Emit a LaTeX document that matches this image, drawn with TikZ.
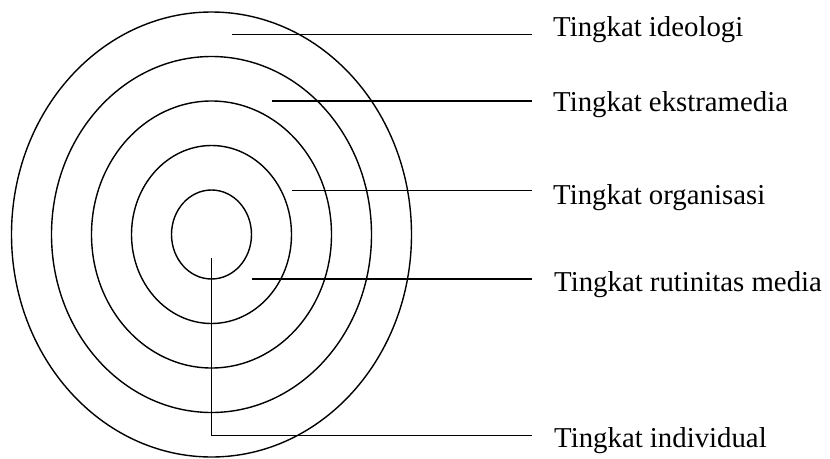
\documentclass[tikz,border=0pt]{standalone}
\usepackage{fontspec}
\setmainfont{Liberation Serif}
\usetikzlibrary{shapes.geometric}
\begin{document}
\begin{tikzpicture}[x=1pt,y=-1pt,
  ring/.style={draw, ellipse, inner sep=0pt, line width=1.4pt},
  leader/.style={line width=1.4pt},
  lab/.style={anchor=base west, inner sep=0pt, font=\fontsize{28.8}{32}\selectfont}]
\useasboundingbox (0,0) rectangle (830,458);
\coordinate (c) at (211.5,234.5);
\node[ring, minimum width=400pt, minimum height=445pt] (r1) at (c) {};
\node[ring, minimum width=320pt, minimum height=356pt] (r2) at (c) {};
\node[ring, minimum width=240pt, minimum height=267pt] (r3) at (c) {};
\node[ring, minimum width=160pt, minimum height=178pt] (r4) at (c) {};
\node[ring, minimum width=80pt, minimum height=89pt] (r5) at (c) {};

\node[lab] (l1) at (553,36.5) {Tingkat ideologi};
\node[lab] (l2) at (553,111.5) {Tingkat ekstramedia};
\node[lab] (l3) at (553,204) {Tingkat organisasi};
\node[lab] (l4) at (554,291) {Tingkat rutinitas media};
\node[lab] (l5) at (554,447.5) {Tingkat individual};

\coordinate (a1) at (231.7,34.3);   \coordinate (b1) at (531.7,34.3);
\coordinate (a2) at (271.7,101);    \coordinate (b2) at (531.7,101);
\coordinate (a3) at (291.7,190.5);  \coordinate (b3) at (531.7,190.5);
\coordinate (a4) at (252,279);      \coordinate (b4) at (531.7,279);
\coordinate (a5) at (211.3,258.3);  \coordinate (k5) at (211.3,435.7);
\coordinate (b5) at (531.7,435.7);

\draw[leader] (a1) -- (b1);
\draw[leader] (a2) -- (b2);
\draw[leader] (a3) -- (b3);
\draw[leader] (a4) -- (b4);
\draw[leader] (a5) -- (k5) -- (b5);
\end{tikzpicture}
\end{document}
